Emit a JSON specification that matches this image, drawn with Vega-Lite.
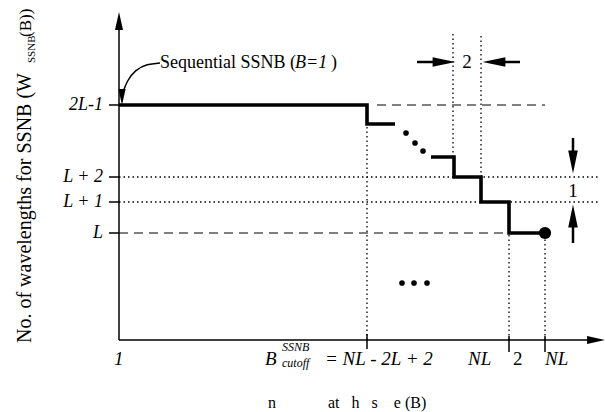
{
  "$schema": "https://vega.github.io/schema/vega-lite/v6.json",
  "width": 481,
  "height": 325,
  "autosize": {"type": "none"},
  "padding": {"left": 119, "top": 15, "right": 6, "bottom": 72},
  "background": "white",
  "config": {"view": {"stroke": null}, "text": {"font": "Liberation Serif", "color": "black"}},
  "datasets": {
    "steps": [
      {"seg": "a", "i": 0, "x": 0, "y": 235},
      {"seg": "a", "i": 1, "x": 248, "y": 235},
      {"seg": "a", "i": 2, "x": 248, "y": 216},
      {"seg": "a", "i": 3, "x": 276, "y": 216},
      {"seg": "b", "i": 0, "x": 312, "y": 183},
      {"seg": "b", "i": 1, "x": 335, "y": 183},
      {"seg": "b", "i": 2, "x": 335, "y": 163},
      {"seg": "b", "i": 3, "x": 362, "y": 163},
      {"seg": "b", "i": 4, "x": 362, "y": 138},
      {"seg": "b", "i": 5, "x": 390, "y": 138},
      {"seg": "b", "i": 6, "x": 390, "y": 107},
      {"seg": "b", "i": 7, "x": 426, "y": 107}
    ],
    "dashed": [
      {"x": 258, "x2": 426, "y": 235, "y2": 235},
      {"x": 0, "x2": 390, "y": 107, "y2": 107}
    ],
    "dotted": [
      {"x": 0, "x2": 481, "y": 163, "y2": 163},
      {"x": 0, "x2": 479, "y": 138, "y2": 138},
      {"x": 248, "x2": 248, "y": 0, "y2": 216},
      {"x": 334, "x2": 334, "y": 183, "y2": 307},
      {"x": 362, "x2": 362, "y": 163, "y2": 307},
      {"x": 390, "x2": 390, "y": 0, "y2": 107},
      {"x": 426, "x2": 426, "y": 0, "y2": 107}
    ],
    "solid": [
      {"x": 0, "x2": 0, "y": 0, "y2": 314},
      {"x": 0, "x2": 472, "y": 0, "y2": 0},
      {"x": -10, "x2": 0, "y": 235, "y2": 235},
      {"x": -10, "x2": 0, "y": 163, "y2": 163},
      {"x": -10, "x2": 0, "y": 138, "y2": 138},
      {"x": -10, "x2": 0, "y": 107, "y2": 107},
      {"x": 248, "x2": 248, "y": -9, "y2": 6},
      {"x": 390, "x2": 390, "y": -12, "y2": 4},
      {"x": 426, "x2": 426, "y": -12, "y2": 4}
    ],
    "shafts": [
      {"x": 298, "x2": 320, "y": 278, "y2": 278},
      {"x": 380, "x2": 401, "y": 278, "y2": 278},
      {"x": 454, "x2": 454, "y": 202, "y2": 184},
      {"x": 454, "x2": 454, "y": 97, "y2": 118}
    ],
    "heads": [
      {"x": 325, "y": 278, "dir": "R", "kind": "big"},
      {"x": 375, "y": 278, "dir": "L", "kind": "big"},
      {"x": 454, "y": 178, "dir": "D", "kind": "big"},
      {"x": 454, "y": 124, "dir": "U", "kind": "big"},
      {"x": 0, "y": 319, "dir": "U", "kind": "small"},
      {"x": 477, "y": 0, "dir": "R", "kind": "small"},
      {"x": 3, "y": 243, "dir": "D", "kind": "small"}
    ],
    "curve": [
      {"i": 0, "x": 41, "y": 277},
      {"i": 1, "x": 28, "y": 276},
      {"i": 2, "x": 16, "y": 270},
      {"i": 3, "x": 8, "y": 259},
      {"i": 4, "x": 4, "y": 248}
    ],
    "dots": [
      {"x": 287, "y": 207},
      {"x": 296, "y": 197},
      {"x": 304, "y": 189},
      {"x": 283, "y": 57},
      {"x": 295, "y": 57},
      {"x": 308, "y": 57}
    ],
    "enddot": [{"x": 426, "y": 107}],
    "yticks": [
      {"x": -16, "y": 235, "text": "2L-1"},
      {"x": -16, "y": 163, "text": "L + 2"},
      {"x": -16, "y": 138, "text": "L + 1"},
      {"x": -16, "y": 107, "text": "L"}
    ],
    "italicLeft": [
      {"x": -5, "y": -25, "text": "1"},
      {"x": 146, "y": -25, "text": "B"},
      {"x": 206, "y": -25, "text": "= NL - 2L + 2"},
      {"x": 349, "y": -25, "text": "NL"},
      {"x": 426, "y": -25, "text": "NL"}
    ],
    "seqItal": [{"x": 176, "y": 272, "text": "B=1"}],
    "italicSmall": [
      {"x": 163, "y": -11, "text": "SSNB"},
      {"x": 163, "y": -27, "text": "cutoff"}
    ],
    "romanLeft": [
      {"x": 394, "y": -25, "text": "2"}
    ],
    "seqRoman": [
      {"x": 41, "y": 272, "text": "Sequential SSNB ("},
      {"x": 212, "y": 272, "text": ")"}
    ],
    "romanCenter": [
      {"x": 348, "y": 272, "text": "2"},
      {"x": 454, "y": 143, "text": "1"}
    ],
    "xtitle": [{"x": 149, "y": -68, "text": "n\u00a0\u00a0\u00a0\u00a0\u00a0\u00a0\u00a0\u00a0\u00a0\u00a0\u00a0\u00a0\u00a0at\u00a0\u00a0\u00a0h\u00a0\u00a0\u00a0s\u00a0\u00a0\u00a0\u00a0e\u00a0(B)"}],
    "ytitleMain": [{"x": -88, "y": -3, "text": "No. of wavelengths for SSNB (W"}],
    "ytitleSub": [{"x": -84, "y": 277, "text": "SSNB"}],
    "ytitleEnd": [{"x": -88, "y": 303, "text": "(B))"}]
  },
  "encoding": {
    "x": {"field": "x", "type": "quantitative", "scale": {"domain": [0, 481], "nice": false, "zero": false}, "axis": null},
    "y": {"field": "y", "type": "quantitative", "scale": {"domain": [0, 325], "nice": false, "zero": false}, "axis": null}
  },
  "layer": [
    {"data": {"name": "dashed"}, "mark": {"type": "rule", "color": "black", "strokeWidth": 1.1, "strokeDash": [9, 6]},
     "encoding": {"x2": {"field": "x2"}, "y2": {"field": "y2"}}},
    {"data": {"name": "dotted"}, "mark": {"type": "rule", "color": "black", "strokeWidth": 1.3, "strokeDash": [1.5, 3]},
     "encoding": {"x2": {"field": "x2"}, "y2": {"field": "y2"}}},
    {"data": {"name": "solid"}, "mark": {"type": "rule", "color": "black", "strokeWidth": 1.5},
     "encoding": {"x2": {"field": "x2"}, "y2": {"field": "y2"}}},
    {"data": {"name": "shafts"}, "mark": {"type": "rule", "color": "black", "strokeWidth": 2.5},
     "encoding": {"x2": {"field": "x2"}, "y2": {"field": "y2"}}},
    {"data": {"name": "steps"}, "mark": {"type": "line", "color": "black", "strokeWidth": 3.6, "strokeJoin": "miter", "strokeCap": "butt"},
     "encoding": {"detail": {"field": "seg"}, "order": {"field": "i"}}},
    {"data": {"name": "curve"}, "mark": {"type": "line", "color": "black", "strokeWidth": 1.5, "interpolate": "basis"},
     "encoding": {"order": {"field": "i"}}},
    {"data": {"name": "dots"}, "mark": {"type": "point", "filled": true, "color": "black", "opacity": 1, "size": 32}},
    {"data": {"name": "enddot"}, "mark": {"type": "point", "filled": true, "color": "black", "opacity": 1, "size": 150}},
    {"data": {"name": "heads"}, "transform": [{"filter": "datum.kind === 'big' && datum.dir === 'R'"}],
     "mark": {"type": "point", "filled": true, "color": "black", "opacity": 1, "size": 520, "shape": "M1,0L-1,-0.42L-1,0.42Z"}},
    {"data": {"name": "heads"}, "transform": [{"filter": "datum.kind === 'big' && datum.dir === 'L'"}],
     "mark": {"type": "point", "filled": true, "color": "black", "opacity": 1, "size": 520, "shape": "M-1,0L1,-0.42L1,0.42Z"}},
    {"data": {"name": "heads"}, "transform": [{"filter": "datum.kind === 'big' && datum.dir === 'D'"}],
     "mark": {"type": "point", "filled": true, "color": "black", "opacity": 1, "size": 520, "shape": "M0,1L-0.42,-1L0.42,-1Z"}},
    {"data": {"name": "heads"}, "transform": [{"filter": "datum.kind === 'big' && datum.dir === 'U'"}],
     "mark": {"type": "point", "filled": true, "color": "black", "opacity": 1, "size": 520, "shape": "M0,-1L-0.42,1L0.42,1Z"}},
    {"data": {"name": "heads"}, "transform": [{"filter": "datum.kind === 'small' && datum.dir === 'U'"}],
     "mark": {"type": "point", "filled": true, "color": "black", "opacity": 1, "size": 320, "shape": "M0,-1L-0.45,1L0.45,1Z"}},
    {"data": {"name": "heads"}, "transform": [{"filter": "datum.kind === 'small' && datum.dir === 'R'"}],
     "mark": {"type": "point", "filled": true, "color": "black", "opacity": 1, "size": 320, "shape": "M1,0L-1,-0.45L-1,0.45Z"}},
    {"data": {"name": "heads"}, "transform": [{"filter": "datum.kind === 'small' && datum.dir === 'D'"}],
     "mark": {"type": "point", "filled": true, "color": "black", "opacity": 1, "size": 260, "shape": "M0,1L-0.45,-1L0.45,-1Z"}},
    {"data": {"name": "yticks"}, "mark": {"type": "text", "color": "black", "fontSize": 18, "fontStyle": "italic", "align": "right", "baseline": "middle"},
     "encoding": {"text": {"field": "text"}}},
    {"data": {"name": "italicLeft"}, "mark": {"type": "text", "color": "black", "fontSize": 19, "fontStyle": "italic", "align": "left", "baseline": "alphabetic"},
     "encoding": {"text": {"field": "text"}}},
    {"data": {"name": "seqItal"}, "mark": {"type": "text", "color": "black", "fontSize": 18, "fontStyle": "italic", "align": "left", "baseline": "alphabetic"},
     "encoding": {"text": {"field": "text"}}},
    {"data": {"name": "italicSmall"}, "mark": {"type": "text", "color": "black", "fontSize": 12, "fontStyle": "italic", "align": "left", "baseline": "alphabetic"},
     "encoding": {"text": {"field": "text"}}},
    {"data": {"name": "romanLeft"}, "mark": {"type": "text", "color": "black", "fontSize": 19, "align": "left", "baseline": "alphabetic"},
     "encoding": {"text": {"field": "text"}}},
    {"data": {"name": "seqRoman"}, "mark": {"type": "text", "color": "black", "fontSize": 18, "align": "left", "baseline": "alphabetic"},
     "encoding": {"text": {"field": "text"}}},
    {"data": {"name": "romanCenter"}, "mark": {"type": "text", "color": "black", "fontSize": 19, "align": "center", "baseline": "alphabetic"},
     "encoding": {"text": {"field": "text"}}},
    {"data": {"name": "xtitle"}, "mark": {"type": "text", "color": "black", "fontSize": 16, "align": "left", "baseline": "alphabetic"},
     "encoding": {"text": {"field": "text"}}},
    {"data": {"name": "ytitleMain"}, "mark": {"type": "text", "color": "black", "fontSize": 20, "angle": 270, "align": "left", "baseline": "alphabetic"},
     "encoding": {"text": {"field": "text"}}},
    {"data": {"name": "ytitleSub"}, "mark": {"type": "text", "color": "black", "fontSize": 11, "angle": 270, "align": "left", "baseline": "alphabetic"},
     "encoding": {"text": {"field": "text"}}},
    {"data": {"name": "ytitleEnd"}, "mark": {"type": "text", "color": "black", "fontSize": 17, "angle": 270, "align": "left", "baseline": "alphabetic"},
     "encoding": {"text": {"field": "text"}}}
  ]
}
